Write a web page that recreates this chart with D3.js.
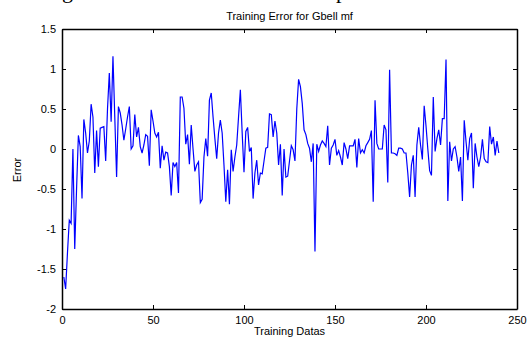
<!DOCTYPE html>
<html>
<head>
<meta charset="utf-8">
<script src="https://cdn.jsdelivr.net/npm/d3@7"></script>
<style>
  body { margin: 0; background: #fff; }
  svg { display: block; }
</style>
</head>
<body>
<svg width="531" height="337"></svg>
<script>
// training error, one value per sample (1..240)
const errors = [
  -1.6, -1.75, -1.3, -0.89, -0.93, 0.0, -1.25, -0.5, 0.17, 0.03,
  -0.62, 0.37, 0.2, -0.05, 0.1, 0.56, 0.4, -0.3, 0.23, -0.22,
  0.26, 0.27, 0.28, -0.15, 0.5, 0.95, 0.34, 1.16, 0.4, -0.35,
  0.53, 0.45, 0.3, 0.11, 0.25, 0.4, 0.53, 0.0, 0.04, 0.43,
  0.15, 0.27, 0.03, -0.05, 0.05, 0.18, 0.16, -0.21, 0.49, 0.35,
  0.2, 0.15, 0.21, -0.24, 0.04, -0.14, -0.04, -0.05, -0.22, -0.58,
  -0.17, -0.22, -0.17, -0.55, 0.65, 0.65, 0.51, 0.06, 0.18, -0.19,
  0.3, 0.0, -0.28, -0.2, -0.16, -0.67, -0.63, -0.1, 0.13, -0.09,
  0.61, 0.7, 0.4, 0.13, -0.12, 0.2, 0.36, 0.2, -0.2, -0.66,
  -0.26, -0.69, -0.01, -0.28, -0.1, 0.05, 0.4, 0.74, 0.2, -0.29,
  0.22, 0.27, -0.03, 0.02, -0.62, -0.3, -0.14, -0.45, -0.3, -0.31,
  -0.15, 0.01, 0.02, 0.44, 0.43, 0.15, 0.35, 0.2, -0.2, 0.06,
  -0.58, 0.0, -0.35, -0.34, -0.15, 0.04, -0.01, -0.15, 0.5, 0.87,
  0.78, 0.57, 0.24, 0.18, 0.07, 0.01, -0.16, 0.07, -1.28, 0.06,
  -0.03, 0.05, 0.1, 0.07, 0.03, 0.29, -0.2, 0.01, 0.05, 0.12,
  -0.08, -0.02, -0.1, -0.2, 0.08, 0.0, -0.12, 0.04, 0.04, 0.04,
  0.12, -0.23, 0.13, -0.05, -0.01, -0.05, 0.04, 0.08, 0.12, 0.23,
  -0.66, 0.61, 0.07, 0.0, 0.0, 0.0, 0.3, 0.24, -0.42, 0.99,
  -0.05, -0.05, -0.06, -0.08, 0.01, 0.01, 0.0, -0.05, -0.05, -0.3,
  -0.6, -0.2, -0.08, -0.6, 0.05, 0.27, 0.05, -0.13, 0.54, 0.29,
  0.0, -0.27, -0.33, 0.65, -0.03, 0.13, 0.24, 0.05, 0.38, 0.38,
  1.12, -0.65, 0.09, -0.15, 0.0, 0.03, -0.1, -0.28, -0.1, -0.65,
  0.36, 0.09, -0.14, 0.13, 0.2, -0.49, 0.07, -0.1, -0.22, -0.1,
  0.12, -0.12, -0.16, -0.17, 0.28, 0.06, 0.15, -0.08, 0.1, -0.05
];
const xTicks = [0, 50, 100, 150, 200, 250];
const yTicks = [-2, -1.5, -1, -0.5, 0, 0.5, 1, 1.5];

const svg = d3.select('svg');
const margin = { top: 29, right: 14, bottom: 28, left: 62 };
const width = 531 - margin.left - margin.right;
const height = 337 - margin.top - margin.bottom;

const x = d3.scaleLinear().domain([0, 250]).range([0, width]);
const y = d3.scaleLinear().domain([-2, 1.5]).range([height, 0]);

// bits of the page text above the figure, cut off by the crop
svg.append('text').attr('x', 62).attr('y', -2)
  .style('font-family', 'Liberation Serif').style('font-size', '22px').text('g');
svg.append('text').attr('x', 336).attr('y', -2)
  .style('font-family', 'Liberation Serif').style('font-size', '22px').text('p');

const g = svg.append('g')
  .attr('transform', `translate(${margin.left},${margin.top})`);

const fmt = d => String(d);

g.append('g')
  .attr('transform', `translate(0,${height})`)
  .call(d3.axisBottom(x).tickValues(xTicks).tickFormat(fmt).tickSizeInner(-4).tickSizeOuter(0).tickPadding(7));
g.append('g')
  .call(d3.axisTop(x).tickValues(xTicks).tickFormat('').tickSizeInner(-4).tickSizeOuter(0));
g.append('g')
  .call(d3.axisLeft(y).tickValues(yTicks).tickFormat(fmt).tickSizeInner(-4).tickSizeOuter(0).tickPadding(6));
g.append('g')
  .attr('transform', `translate(${width},0)`)
  .call(d3.axisRight(y).tickValues(yTicks).tickFormat('').tickSizeInner(-4).tickSizeOuter(0));

g.selectAll('.domain').attr('stroke', '#000').attr('stroke-width', 1.5);
g.selectAll('.tick line').attr('stroke', '#000');
g.selectAll('.tick text')
  .style('font-family', 'Liberation Sans, Arial, sans-serif')
  .style('font-size', '11px')
  .attr('fill', '#000');

const line = d3.line()
  .x((d, i) => x(i + 1))
  .y(d => y(d));

g.append('path')
  .datum(errors)
  .attr('fill', 'none')
  .attr('stroke', '#0000ff')
  .attr('stroke-width', 1.2)
  .attr('d', line);

// title
svg.append('text')
  .attr('x', margin.left + width / 2)
  .attr('y', 20)
  .style('text-anchor', 'middle')
  .style('font-family', 'Liberation Sans, Arial, sans-serif')
  .style('font-size', '11px')
  .text('Training Error for Gbell mf');

// x label
svg.append('text')
  .attr('x', margin.left + width / 2)
  .attr('y', 335)
  .style('text-anchor', 'middle')
  .style('font-family', 'Liberation Sans, Arial, sans-serif')
  .style('font-size', '11px')
  .text('Training Datas');

// y label
svg.append('text')
  .attr('transform', 'rotate(-90)')
  .attr('x', -170)
  .attr('y', 21)
  .style('text-anchor', 'middle')
  .style('font-family', 'Liberation Sans, Arial, sans-serif')
  .style('font-size', '11px')
  .text('Error');
</script>
</body>
</html>
